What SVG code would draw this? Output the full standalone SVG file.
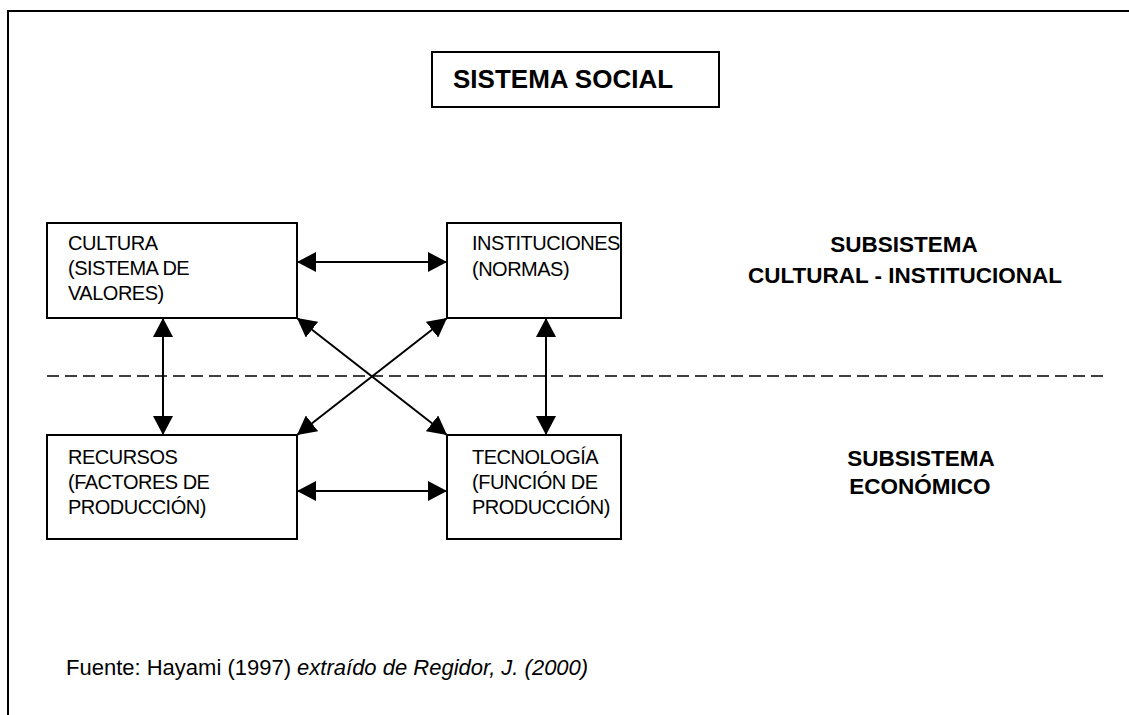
<svg xmlns="http://www.w3.org/2000/svg" width="1129" height="715" viewBox="0 0 1129 715">
<defs>
<style>
.box{fill:#fff;stroke:#000;stroke-width:2}
.t{font-family:"Liberation Sans",Arial,sans-serif;font-size:20px;letter-spacing:-0.5px;fill:#000}
.f{font-family:"Liberation Sans",Arial,sans-serif;font-size:22px;fill:#000}
.b{font-family:"Liberation Sans",Arial,sans-serif;font-weight:bold;fill:#000}
.c{stroke:#000;stroke-width:2;fill:none}
</style>
<marker id="ah" viewBox="0 0 19 20" refX="19" refY="10" markerWidth="19" markerHeight="20" markerUnits="userSpaceOnUse" orient="auto-start-reverse">
<path d="M0,0 L19,10 L0,20 z" fill="#000"/>
</marker>
</defs>
<rect width="1129" height="715" fill="#fff"/>
<path d="M8,715 V11 H1129" fill="none" stroke="#000" stroke-width="2"/>
<g id="title">
<rect class="box" x="432" y="52" width="287" height="55"/>
<text class="b" x="453" y="88" font-size="26">SISTEMA SOCIAL</text>
</g>
<g id="cultura">
<rect class="box" x="47" y="223" width="250" height="95"/>
<text class="t" x="68" y="250">CULTURA</text>
<text class="t" x="68" y="275">(SISTEMA DE</text>
<text class="t" x="68" y="300">VALORES)</text>
</g>
<g id="instituciones">
<rect class="box" x="447" y="223" width="174" height="95"/>
<text class="t" x="472" y="250">INSTITUCIONES</text>
<text class="t" x="472" y="276">(NORMAS)</text>
</g>
<g id="recursos">
<rect class="box" x="47" y="435" width="250" height="104"/>
<text class="t" x="68" y="464">RECURSOS</text>
<text class="t" x="68" y="489">(FACTORES DE</text>
<text class="t" x="68" y="514">PRODUCCIÓN)</text>
</g>
<g id="tecnologia">
<rect class="box" x="447" y="435" width="174" height="104"/>
<text class="t" x="472" y="464">TECNOLOGÍA</text>
<text class="t" x="472" y="489">(FUNCIÓN DE</text>
<text class="t" x="472" y="514">PRODUCCIÓN)</text>
</g>
<g id="sub-cultural">
<text class="b" x="904" y="252" font-size="22.5" text-anchor="middle">SUBSISTEMA</text>
<text class="b" x="905" y="283" font-size="22.5" text-anchor="middle">CULTURAL - INSTITUCIONAL</text>
</g>
<g id="sub-economico">
<text class="b" x="921" y="466" font-size="22.5" text-anchor="middle">SUBSISTEMA</text>
<text class="b" x="920" y="494" font-size="22.5" text-anchor="middle">ECONÓMICO</text>
</g>
<g id="connectors">
<line class="c" x1="297" y1="262" x2="447" y2="262" marker-start="url(#ah)" marker-end="url(#ah)"/>
<line class="c" x1="297" y1="491" x2="447" y2="491" marker-start="url(#ah)" marker-end="url(#ah)"/>
<line class="c" x1="163" y1="318" x2="163" y2="435" marker-start="url(#ah)" marker-end="url(#ah)"/>
<line class="c" x1="546" y1="318" x2="546" y2="435" marker-start="url(#ah)" marker-end="url(#ah)"/>
<line class="c" x1="297" y1="318" x2="447" y2="435" marker-start="url(#ah)" marker-end="url(#ah)"/>
<line class="c" x1="447" y1="318" x2="297" y2="435" marker-start="url(#ah)" marker-end="url(#ah)"/>
<line x1="47" y1="376" x2="1107" y2="376" stroke="#000" stroke-width="1.5" stroke-dasharray="12 6"/>
</g>
<g id="footnote">
<text class="f" x="66" y="675">Fuente: Hayami (1997) <tspan font-style="italic">extraído de Regidor, J. (2000)</tspan></text>
</g>
</svg>
